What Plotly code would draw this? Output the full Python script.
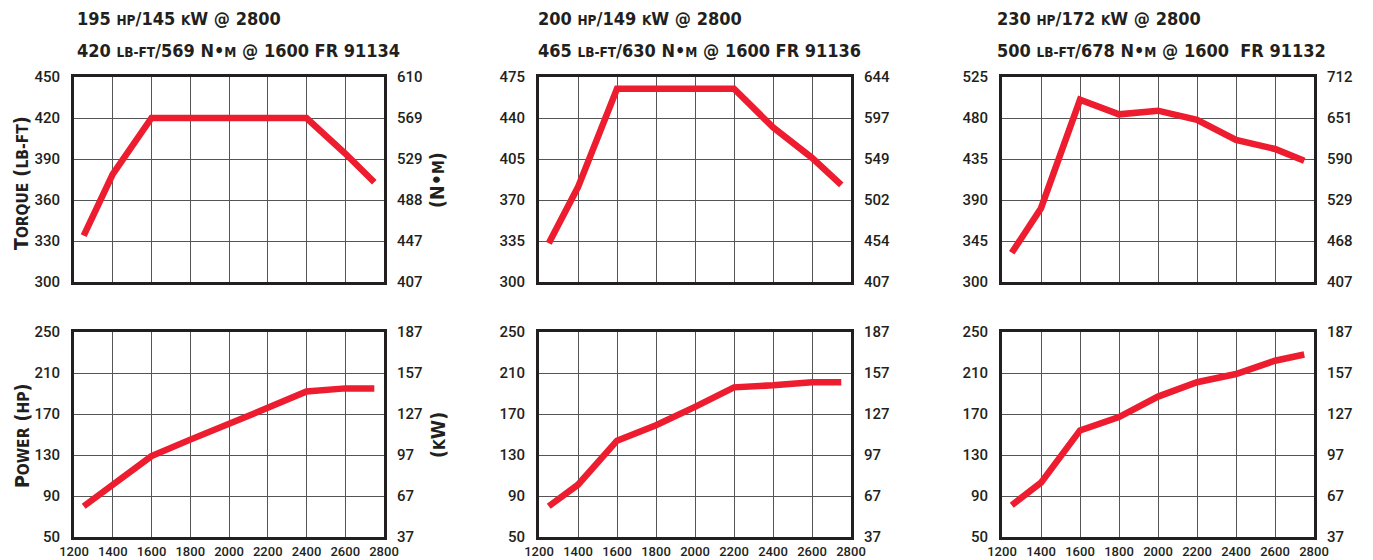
import plotly.graph_objects as go

# ---------------- data ----------------
rpm = [1250, 1400, 1600, 1800, 2000, 2200, 2400, 2600, 2750]
rpm_ticks = [1200, 1400, 1600, 1800, 2000, 2200, 2400, 2600, 2800]

torque_91134 = [334, 379, 420, 420, 420, 420, 420, 394, 373]
power_91134 = [80, 101, 129, 145, 160, 176, 192, 195, 195]
torque_91136 = [333, 381, 465, 465, 465, 465, 432, 406, 383]
power_91136 = [80, 101, 144, 159, 177, 196, 198, 201, 201]
torque_91132 = [332, 381, 500, 484, 488, 478, 456, 446, 433]
power_91132 = [81, 103, 154, 167, 187, 201, 209, 222, 228]

torque_ticks_91134 = [300, 330, 360, 390, 420, 450]
torque_nm_labels_91134 = ["407", "447", "488", "529", "569", "610"]
torque_ticks_91136 = [300, 335, 370, 405, 440, 475]
torque_nm_labels_91136 = ["407", "454", "502", "549", "597", "644"]
torque_ticks_91132 = [300, 345, 390, 435, 480, 525]
torque_nm_labels_91132 = ["407", "468", "529", "590", "651", "712"]
power_hp_ticks = [50, 90, 130, 170, 210, 250]
power_kw_labels = ["37", "67", "97", "127", "157", "187"]

W, H = 1373, 560
RED = "#ED1C2E"
INK = "#231F20"
GRID = "#555555"
TITLE_FONT = "DejaVu Sans Condensed, Liberation Sans Narrow, sans-serif"
TICK_FONT = "Roboto, Liberation Sans, Arial, sans-serif"


def sc(s, size):
    return f"<span style='font-size:{size}px'>{s}</span>"


HS = 13.5  # small-caps size in headers
panels = [
    dict(torque=torque_91134, power=power_91134, tticks=torque_ticks_91134,
         tlabels=torque_nm_labels_91134, px=(74, 384),
         head1=f"195 {sc('HP', HS)}/145 {sc('K', HS)}W @ 2800",
         head2=f"420 {sc('LB-FT', HS)}/569 N•{sc('M', HS)} @ 1600 FR 91134",
         hx=75),
    dict(torque=torque_91136, power=power_91136, tticks=torque_ticks_91136,
         tlabels=torque_nm_labels_91136, px=(539, 851),
         head1=f"200 {sc('HP', HS)}/149 {sc('K', HS)}W @ 2800",
         head2=f"465 {sc('LB-FT', HS)}/630 N•{sc('M', HS)} @ 1600 FR 91136",
         hx=536),
    dict(torque=torque_91132, power=power_91132, tticks=torque_ticks_91132,
         tlabels=torque_nm_labels_91132, px=(1002, 1314),
         head1=f"230 {sc('HP', HS)}/172 {sc('K', HS)}W @ 2800",
         head2=f"500 {sc('LB-FT', HS)}/678 N•{sc('M', HS)} @ 1600\u00a0 FR 91132",
         hx=995),
]

torque_rows = (77, 282)
power_rows = (332, 537)


def ydom(top, bot):
    return [1 - bot / H, 1 - top / H]


fig = go.Figure()
layout = {}
annotations = []
ax_i = 0
y_i = 0
for p in panels:
    xdom = [p["px"][0] / W, p["px"][1] / W]
    for kind in ("torque", "power"):
        ax_i += 1
        xname = "x" if ax_i == 1 else f"x{ax_i}"
        y_i += 1
        yl = "y" if y_i == 1 else f"y{y_i}"
        y_i += 1
        yr = f"y{y_i}"
        if kind == "torque":
            rows = torque_rows
            ticks = p["tticks"]
            rlabels = p["tlabels"]
            vals = p["torque"]
        else:
            rows = power_rows
            ticks = power_hp_ticks
            rlabels = power_kw_labels
            vals = p["power"]
        fig.add_trace(go.Scatter(
            x=rpm, y=vals, mode="lines", xaxis=xname, yaxis=yl,
            line=dict(color=RED, width=6.5), showlegend=False, hoverinfo="x+y"))
        # invisible trace so the right-hand axis is drawn
        fig.add_trace(go.Scatter(
            x=rpm, y=vals, mode="lines", xaxis=xname, yaxis=yr,
            line=dict(color="rgba(0,0,0,0)", width=0), showlegend=False,
            hoverinfo="skip"))
        xkey = "xaxis" if ax_i == 1 else f"xaxis{ax_i}"
        layout[xkey] = dict(
            domain=xdom, anchor=yl, range=[1200, 2800], tickvals=rpm_ticks,
            showgrid=True, gridcolor=GRID, gridwidth=1.3,
            showline=True, linecolor=INK, linewidth=3, mirror=True,
            zeroline=False, ticks="", automargin=False,
            showticklabels=(kind == "power"),
            tickfont=dict(family=TICK_FONT, size=13, color=INK, weight=500),
            fixedrange=True,
        )
        ylkey = "yaxis" if yl == "y" else f"yaxis{yl[1:]}"
        layout[ylkey] = dict(
            domain=ydom(*rows), anchor=xname, range=[ticks[0], ticks[-1]],
            tickvals=ticks, showgrid=True, gridcolor=GRID, gridwidth=1.3,
            showline=True, linecolor=INK, linewidth=3, mirror=True,
            zeroline=False, ticks="", ticklabelstandoff=8, automargin=False,
            tickfont=dict(family=TICK_FONT, size=15, color=INK, weight=500),
            fixedrange=True,
        )
        layout[f"yaxis{yr[1:]}"] = dict(
            overlaying=yl, side="right", anchor=xname,
            range=[ticks[0], ticks[-1]], tickvals=ticks, ticktext=rlabels,
            showgrid=False, showline=False, zeroline=False, ticks="",
            ticklabelstandoff=12, automargin=False,
            tickfont=dict(family=TICK_FONT, size=15, color=INK, weight=500),
            fixedrange=True,
        )
    annotations.append(dict(
        text=p["head1"], x=p["hx"] / W, y=1 - 18 / H, xref="paper", yref="paper",
        xanchor="left", yanchor="middle", showarrow=False,
        font=dict(family=TITLE_FONT, size=18, color=INK, weight="bold")))
    annotations.append(dict(
        text=p["head2"], x=p["hx"] / W, y=1 - 50 / H, xref="paper", yref="paper",
        xanchor="left", yanchor="middle", showarrow=False,
        font=dict(family=TITLE_FONT, size=18, color=INK, weight="bold")))

AS = 15.5
axis_titles = [
    (f"T{sc('ORQUE', AS)} ({sc('LB-FT', AS)})", 22, 183),
    (f"P{sc('OWER', AS)} ({sc('HP', AS)})", 22, 436),
    (f"(N•{sc('M', AS)})", 438, 180),
    (f"({sc('K', AS)}W)", 438, 435),
]
for txt, xp, yp in axis_titles:
    annotations.append(dict(
        text=txt, x=xp / W, y=1 - yp / H, xref="paper", yref="paper",
        xanchor="center", yanchor="middle", showarrow=False, textangle=-90,
        font=dict(family=TITLE_FONT, size=19.5, color=INK, weight="bold")))

fig.update_layout(
    width=W, height=H,
    margin=dict(l=0, r=0, t=0, b=0, pad=0, autoexpand=False),
    paper_bgcolor="white", plot_bgcolor="white",
    annotations=annotations, showlegend=False, **layout)

fig.write_html(
    "out.html",
    config={"displayModeBar": False},
    post_script="document.body.style.margin='0';document.body.style.overflow='hidden';")
